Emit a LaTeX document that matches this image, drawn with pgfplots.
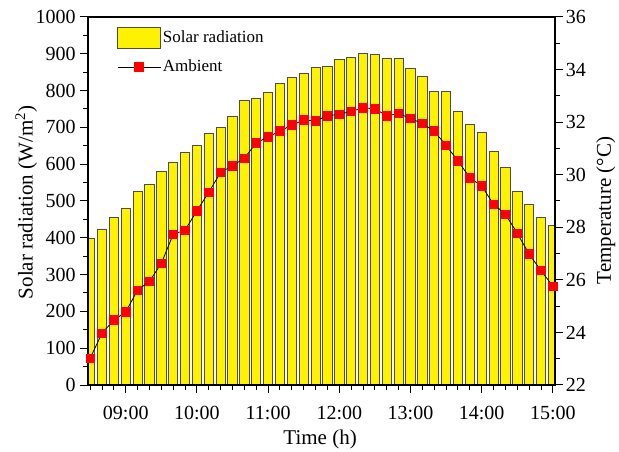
\documentclass[border=0pt]{standalone}
\usepackage{fontspec}
\setmainfont{Liberation Serif}
\usepackage{pgfplots}
\pgfplotsset{compat=1.18}
\pgfplotsset{every axis/.append style={font=\fontsize{17}{20}\selectfont},
  mylinelegend/.style={legend image code/.code={\draw[mark repeat=2,mark phase=2,##1] plot coordinates {(0pt,0pt) (21.5pt,0pt) (43pt,0pt)};}}}
\begin{document}
\fontsize{17}{20}\selectfont
\begin{tikzpicture}
\begin{axis}[
  name=ax,
  scale only axis, width=467pt, height=368pt,
  xmin=8.47, xmax=15.03, ymin=0, ymax=1000,
  axis on top,
  xtick pos=lower, ytick pos=left,
  xtick={9,10,11,12,13,14,15},
  xticklabels={09:00,10:00,11:00,12:00,13:00,14:00,15:00},
  minor xtick={8.5,8.6667,8.8333,9.1667,9.3333,9.5,9.6667,9.8333,10.1667,10.3333,10.5,10.6667,10.8333,11.1667,11.3333,11.5,11.6667,11.8333,12.1667,12.3333,12.5,12.6667,12.8333,13.1667,13.3333,13.5,13.6667,13.8333,14.1667,14.3333,14.5,14.6667,14.8333},
  ytick distance=100, minor y tick num=1,
  tick align=outside, major tick length=8pt, minor tick length=4.5pt,
  tick style={black, line width=1pt},
  axis line style={line width=1.3pt},
  /pgf/number format/assume math mode=true,
  /pgf/number format/1000 sep={},
  ticklabel style={font=\fontsize{20}{24}\selectfont},
  yticklabel style={xshift=1.5pt},
  xticklabel style={yshift=-7pt},
  label style={font=\fontsize{21}{25}\selectfont},
  xlabel={Time (h)},
  ylabel={Solar radiation (W/m\textsuperscript{2})},
  xlabel style={at={(axis description cs:0.497,-0.147)}, anchor=center},
  ylabel style={at={(axis description cs:-0.132,0.496)}, anchor=center},
]
\addplot[ybar, bar width=0.13, fill=yellow, draw=black!70, line width=0.8pt] coordinates {
(8.5,398) (8.6667,424) (8.8333,455) (9,481) (9.1667,525) (9.3333,546)
(9.5,581) (9.6667,606) (9.8333,631) (10,650) (10.1667,683) (10.3333,701)
(10.5,730) (10.6667,774) (10.8333,780) (11,794) (11.1667,819) (11.3333,835)
(11.5,848) (11.6667,863) (11.8333,865) (12,884) (12.1667,891) (12.3333,901)
(12.5,897) (12.6667,887) (12.8333,887) (13,860) (13.1667,838) (13.3333,797)
(13.5,797) (13.6667,744) (13.8333,709) (14,687) (14.1667,636) (14.3333,591)
(14.5,526) (14.6667,491) (14.8333,455) (15,434)
};
\end{axis}
\begin{axis}[
  scale only axis, width=467pt, height=368pt,
  xmin=8.47, xmax=15.03, ymin=22, ymax=36,
  axis x line=none, axis y line*=right,
  ytick={22,24,...,36}, minor y tick num=1,
  tick align=outside, major tick length=8pt, minor tick length=4.5pt,
  tick style={black, line width=1pt},
  axis line style={line width=1.3pt},
  /pgf/number format/assume math mode=true,
  ticklabel style={font=\fontsize{20}{24}\selectfont},
  yticklabel style={xshift=-3pt},
  label style={font=\fontsize{21}{25}\selectfont},
  ylabel={Temperature (°C)},
  ylabel style={at={(axis description cs:1.109,0.474)}, anchor=center, rotate=0},
  legend style={at={(axis description cs:0.062,0.973)}, anchor=north west, draw=none, fill=none,
    inner sep=0pt, row sep=9pt, font=\fontsize{17}{20}\selectfont,
    /tikz/every even column/.append style={column sep=5pt}},
  legend cell align=left,
]
\addlegendimage{area legend, legend image code/.code={\draw[fill=yellow, draw=black!70, line width=0.8pt] (0pt,-10.5pt) rectangle (43pt,10.5pt);}}
\addlegendentry{Solar radiation}
\addplot[black, line width=0.8pt, mark=square*, mark size=4.2pt, mark options={fill=red, draw=red}, mylinelegend] coordinates {
(8.5,23.02) (8.6667,23.97) (8.8333,24.47) (9,24.78) (9.1667,25.61) (9.3333,25.94)
(9.5,26.63) (9.6667,27.73) (9.8333,27.89) (10,28.63) (10.1667,29.33) (10.3333,30.09)
(10.5,30.34) (10.6667,30.63) (10.8333,31.21) (11,31.44) (11.1667,31.66) (11.3333,31.89)
(11.5,32.08) (11.6667,32.05) (11.8333,32.24) (12,32.30) (12.1667,32.41) (12.3333,32.54)
(12.5,32.51) (12.6667,32.24) (12.8333,32.33) (13,32.14) (13.1667,31.95) (13.3333,31.66)
(13.5,31.11) (13.6667,30.53) (13.8333,29.88) (14,29.57) (14.1667,28.88) (14.3333,28.50)
(14.5,27.77) (14.6667,26.98) (14.8333,26.35) (15,25.76)
};
\addlegendentry{Ambient}
\end{axis}
\pgfresetboundingbox
\path[use as bounding box] ([xshift=-88pt,yshift=-66pt]ax.south west) rectangle ([xshift=64pt,yshift=17pt]ax.north east);
\end{tikzpicture}
\end{document}
